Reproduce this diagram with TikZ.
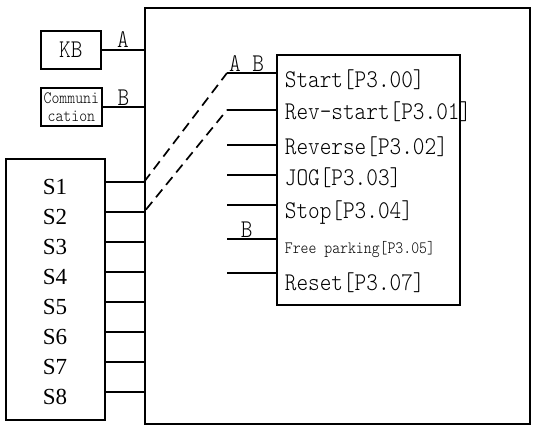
\documentclass[tikz,border=0pt]{standalone}
\usepackage{fontspec}
\setmainfont{Liberation Serif}
\newfontfamily\monofont{lmmonolt10-regular}[Extension=.otf,FakeStretch=0.87]
\usetikzlibrary{calc}

\begin{document}
\begin{tikzpicture}[x=1pt,y=-1pt,line width=1.7pt,
  box/.style={draw,rectangle,inner sep=0pt,anchor=north west},
  big/.style={font=\monofont\fontsize{25.5}{25.5}\selectfont,inner sep=0pt},
  small/.style={font=\monofont\fontsize{17.3}{18}\selectfont,inner sep=0pt}]
  \useasboundingbox (0,0) rectangle (534,425);
  % frames
  \node[box,minimum width=385pt,minimum height=416pt] (drive) at (144,7) {};
  \node[box,minimum width=183pt,minimum height=250pt] (term) at (276,54) {};
  \node[box,big,minimum width=60pt,minimum height=38pt] (kb) at (40,30) {KB};
  \node[box,small,align=center,minimum width=61pt,minimum height=38pt] (comm) at (40,87) {Communi\\cation};
  \node[box,minimum width=99pt,minimum height=261pt] (sio) at (5,158) {};
  % keyboard and communication
  \draw (kb.east) -- (kb.east -| drive.west) node[big,midway,above,yshift=1pt]{A};
  \draw (comm.east) -- (comm.east -| drive.west) node[big,midway,above,yshift=1pt]{B};
  % S1..S8
  \foreach \i in {1,...,8}{
    \node[font=\fontsize{23}{23}\selectfont,inner sep=0pt] (s\i) at (55,{157+30*\i}) {S\i};
    \coordinate (l\i) at (104,{152+30*\i});
    \draw (l\i) -- (l\i -| drive.west);
  }
  % terminal inputs
  \foreach \y [count=\k] in {73,110,145,175,205,239,273}{
    \coordinate (in\k) at (227,\y);
    \draw (in\k) -- (in\k -| term.west);
  }
  \node[big,anchor=west] (t1) at (284,80) {Start[P3.00]};
  \node[big,anchor=west] (t2) at (284,112) {Rev-start[P3.01]};
  \node[big,anchor=west] (t3) at (284,147) {Reverse[P3.02]};
  \node[big,anchor=west] (t4) at (284,178) {JOG[P3.03]};
  \node[big,anchor=west] (t5) at (284,213) {Stop[P3.04]};
  \node[small,anchor=west] (t6) at (284,250) {Free parking[P3.05]};
  \node[big,anchor=west] (t7) at (284,283) {Reset[P3.07]};
  \node[big,above,yshift=1pt] at ($(in1)!0.4!(in1 -| term.west)$) {A B};
  \node[big,above,yshift=1pt] at ($(in6)!0.4!(in6 -| term.west)$) {B};
  % S1/S2 switched to the start inputs
  \draw[dash pattern=on 10pt off 6pt] (l1 -| drive.west) -- (in1);
  \draw[dash pattern=on 10pt off 6pt,shorten <=3pt] (l2 -| drive.west) -- (in2);
\end{tikzpicture}
\end{document}
